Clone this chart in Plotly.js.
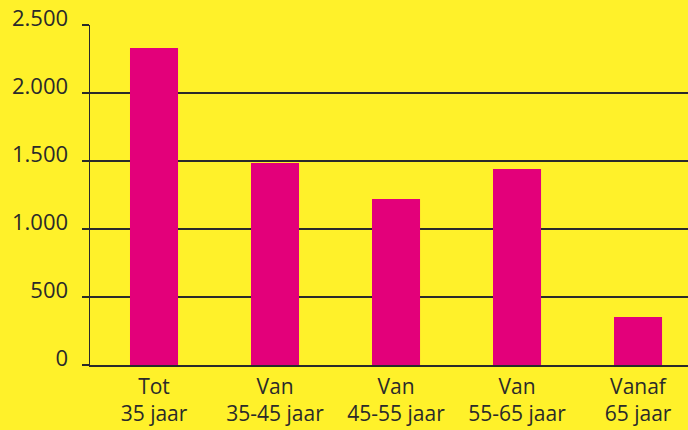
<!DOCTYPE html>
<html>
<head>
<meta charset="utf-8">
<script src="https://cdn.plot.ly/plotly-3.0.1.min.js"></script>
<style>
html,body{margin:0;padding:0;background:#FFF12A;}
#chart{width:688px;height:430px;}
.ytick text{font-variant-numeric:oldstyle-nums;}
</style>
</head>
<body>
<div id="chart"></div>
<script>
var categories = ["Tot<br>35 jaar", "Van<br>35-45 jaar", "Van<br>45-55 jaar", "Van<br>55-65 jaar", "Vanaf<br>65 jaar"];
var values = [2331, 1485, 1221, 1441, 353];
var tickValues = [0, 500, 1000, 1500, 2000, 2500];

var trace = {
  type: "bar",
  x: categories,
  y: values,
  width: 0.397,
  marker: {color: "#E3007A", line: {width: 0}},
  hoverinfo: "none"
};

var layout = {
  width: 688,
  height: 430,
  paper_bgcolor: "#FFF12A",
  plot_bgcolor: "#FFF12A",
  separators: ",.",
  margin: {l: 90, r: 0, t: 25, b: 65, pad: 0},
  showlegend: false,
  font: {family: "Open Sans, sans-serif", color: "#2a2a2a", size: 22},
  xaxis: {
    type: "category",
    range: [-0.529, 4.413],
    showgrid: false,
    zeroline: false,
    showline: true,
    linecolor: "#2a2a2a",
    linewidth: 1.5,
    ticks: "",
    ticklabelstandoff: 2,
    tickfont: {size: 21, color: "#2a2a2a"},
    fixedrange: true
  },
  yaxis: {
    range: [0, 2500],
    tickvals: tickValues,
    tickformat: ",d",
    showgrid: true,
    gridcolor: "#2a2a2a",
    gridwidth: 1.5,
    zeroline: false,
    showline: true,
    linecolor: "#2a2a2a",
    linewidth: 1.5,
    ticks: "outside",
    ticklen: 7,
    tickwidth: 1.5,
    tickcolor: "#2a2a2a",
    ticklabelstandoff: 9,
    ticklabelshift: -7,
    tickfont: {size: 22, color: "#2a2a2a"},
    fixedrange: true
  }
};

Plotly.newPlot("chart", [trace], layout, {displayModeBar: false, staticPlot: true});
</script>
</body>
</html>
